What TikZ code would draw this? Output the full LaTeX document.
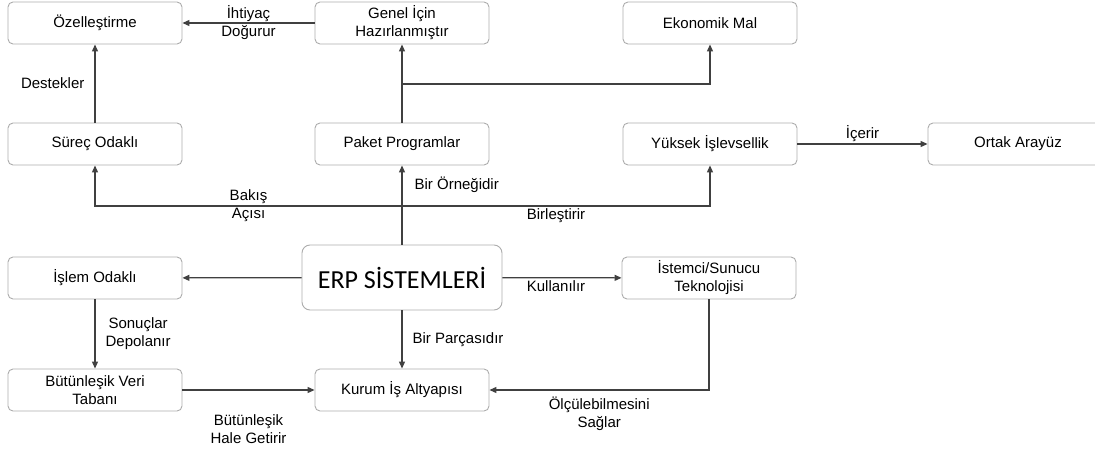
\documentclass[tikz,border=0pt]{standalone}
\usepackage{fontspec}
\setmainfont{Liberation Sans}
\newfontfamily\erpfont{Carlito}
\usetikzlibrary{arrows.meta,positioning}

\begin{document}
\begin{tikzpicture}[x=1pt,y=-1pt,
    every node/.style={font=\fontsize{15}{18}\selectfont, text=black},
    box/.style={draw=gray!65, rounded corners=5pt, line width=0.9pt,
        minimum width=174pt, minimum height=42pt, align=center, inner sep=2pt},
    link/.style={draw=black!75, line width=1.2pt, -{Triangle[length=7pt,width=6pt]}},
    lbl/.style={align=center, inner sep=2pt}]

\useasboundingbox (0,0) rectangle (1095,455);
\clip (0,0) rectangle (1095,455);

%========================
% Boxes
%========================

% Row 1
\node[box] (ozel) at (95,23) {Özelleştirme};
\node[box] (genel) at (402,23) {Genel İçin\\Hazırlanmıştır};
\node[box] (ekonomik) at (710,23) {Ekonomik Mal};

% Row 2
\node[box] (surec) at (95,144) {Süreç Odaklı};
\node[box] (paket) at (402,144) {Paket Programlar};
\node[box] (yuksek) at (710,144) {Yüksek İşlevsellik};
\node[box, minimum width=180pt] (ortak) at (1018,144) {Ortak Arayüz};

% Row 3
\node[box] (islem) at (95,278) {İşlem Odaklı};
\node[box, minimum width=200pt, minimum height=65pt, rounded corners=8pt,
    font=\erpfont\fontsize{26}{30}\selectfont] (erp) at (402,277.5) {ERP SİSTEMLERİ};
\node[box] (istemci) at (709,278) {İstemci/Sunucu\\Teknolojisi};

% Row 4
\node[box] (veri) at (95,390) {Bütünleşik Veri\\Tabanı};
\node[box] (kurum) at (402,390) {Kurum İş Altyapısı};

% Branch points
\coordinate (ayrim1) at (402,84);
\coordinate (ayrim2) at (402,206);

%========================
% Edges
%========================

% Upper part
\draw[link] (genel) -- node[lbl]{İhtiyaç\\Doğurur} (ozel);
\draw[link] (surec) -- node[lbl, left=8pt]{Destekler} (ozel);
\draw[link] (paket) -- (genel);
\draw[link] (ayrim1) -| (ekonomik);
\draw[link] (yuksek) -- node[lbl, above]{İçerir} (ortak);

% Middle part
\draw[link] (erp) -- node[lbl, pos=0.75, right=10pt]{Bir Örneğidir} (paket);
\draw[link] (ayrim2) -| node[lbl, pos=0.25]{Bakış\\Açısı} (surec);
\draw[link] (ayrim2) -| node[lbl, pos=0.25, below]{Birleştirir} (yuksek);
\draw[link] (erp) -- (islem);
\draw[link] (erp) -- node[lbl, pos=0.45, below]{Kullanılır} (istemci);

% Lower part
\draw[link] (islem) -- node[lbl, right=8pt]{Sonuçlar\\Depolanır} (veri);
\draw[link] (erp) -- node[lbl, right=8pt]{Bir Parçasıdır} (kurum);
\draw[link] (veri) -- node[lbl, below=22pt]{Bütünleşik\\Hale Getirir} (kurum);
\draw[link] (istemci) |- node[lbl, pos=0.75, below=4pt]{Ölçülebilmesini\\Sağlar} (kurum);

\end{tikzpicture}
\end{document}
